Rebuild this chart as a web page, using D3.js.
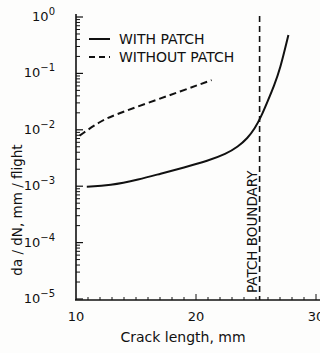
<!DOCTYPE html>
<html>
<head>
<meta charset="utf-8">
<script src="https://cdn.jsdelivr.net/npm/d3@7"></script>
<style>
  body { margin: 0; background: #fdfdfc; }
  text { font-family: "DejaVu Sans", sans-serif; fill: #111; }
</style>
</head>
<body>
<div id="chart"></div>
<script>
// Values
const withPatchX = [10.9, 12.8, 15.3, 17.0, 19.0, 21.0, 22.5, 23.5, 24.3, 24.9, 25.4, 26.0, 26.5, 27.0, 27.7];
const withPatchY = [0.00098, 0.00102, 0.00132, 0.00166, 0.00214, 0.00282, 0.00372, 0.0050, 0.0071, 0.0105, 0.0166, 0.0331, 0.0603, 0.117, 0.48];
const withoutPatchX = [10.3, 12.0, 13.1, 15.9, 18.7, 21.3];
const withoutPatchY = [0.0079, 0.0141, 0.018, 0.0295, 0.048, 0.076];
const patchBoundary = 25.3;
const yDecades = [0, -1, -2, -3, -4, -5];
const xTickLabels = [10, 20, 30];

const width = 320, height = 353;

const svg = d3.select("#chart").append("svg")
    .attr("width", width)
    .attr("height", height);

const x = d3.scaleLinear().domain([10, 30]).range([76, 316]);
const y = d3.scaleLog().domain([1e-5, 1]).range([299, 17]);

// axis lines
svg.append("line")
    .attr("x1", 76).attr("x2", 76)
    .attr("y1", 14).attr("y2", 300)
    .attr("stroke", "#111").attr("stroke-width", 1.6);
svg.append("line")
    .attr("x1", 75).attr("x2", 320)
    .attr("y1", 300).attr("y2", 300)
    .attr("stroke", "#111").attr("stroke-width", 1.6);

// y ticks, pointing into the plot
const yMinor = [];
for (let e = -5; e < 0; e++) {
  for (let m = 2; m <= 9; m++) yMinor.push(m * Math.pow(10, e));
}
svg.append("g").selectAll("line.minor")
    .data(yMinor).enter().append("line")
    .attr("x1", 76).attr("x2", 80)
    .attr("y1", d => y(d)).attr("y2", d => y(d))
    .attr("stroke", "#111").attr("stroke-width", 1);
svg.append("g").selectAll("line.major")
    .data(yDecades).enter().append("line")
    .attr("x1", 76).attr("x2", 83)
    .attr("y1", d => y(Math.pow(10, d))).attr("y2", d => y(Math.pow(10, d)))
    .attr("stroke", "#111").attr("stroke-width", 1.2);

const yLab = svg.append("g").selectAll("text")
    .data(yDecades).enter().append("text")
    .attr("x", 55)
    .attr("y", d => y(Math.pow(10, d)) + 4)
    .attr("text-anchor", "end")
    .attr("font-size", 13);
yLab.append("tspan").text("10");
yLab.append("tspan")
    .attr("dy", -6).attr("font-size", 10)
    .text(d => d === 0 ? "0" : "\u2212" + (-d));

// x ticks
const xMinor = d3.range(11, 31);
svg.append("g").selectAll("line")
    .data(xMinor).enter().append("line")
    .attr("x1", d => x(d)).attr("x2", d => x(d))
    .attr("y1", 300).attr("y2", d => d % 10 === 0 ? 294 : 297)
    .attr("stroke", "#111").attr("stroke-width", 1);

svg.append("g").selectAll("text")
    .data(xTickLabels).enter().append("text")
    .attr("x", d => x(d))
    .attr("y", 321)
    .attr("text-anchor", "middle")
    .attr("font-size", 13)
    .text(d => d);

// axis titles
svg.append("text")
    .attr("x", 183).attr("y", 342)
    .attr("text-anchor", "middle")
    .attr("font-size", 14)
    .text("Crack length, mm");

svg.append("text")
    .attr("transform", "translate(22,210) rotate(-90)")
    .attr("text-anchor", "middle")
    .attr("font-size", 13.5)
    .text("da / dN,  mm / flight");

// patch boundary
svg.append("line")
    .attr("x1", x(patchBoundary)).attr("x2", x(patchBoundary))
    .attr("y1", 16).attr("y2", 300)
    .attr("stroke", "#111").attr("stroke-width", 1.6)
    .attr("stroke-dasharray", "6,4");

svg.append("text")
    .attr("transform", `translate(${x(patchBoundary) - 3},293) rotate(-90)`)
    .attr("font-size", 13.5)
    .text("PATCH BOUNDARY");

// curves
const line = d3.line()
    .x(d => x(d[0]))
    .y(d => y(d[1]))
    .curve(d3.curveBasis);

svg.append("path")
    .datum(d3.zip(withPatchX, withPatchY))
    .attr("d", line)
    .attr("fill", "none")
    .attr("stroke", "#111")
    .attr("stroke-width", 2);

svg.append("path")
    .datum(d3.zip(withoutPatchX, withoutPatchY))
    .attr("d", line)
    .attr("fill", "none")
    .attr("stroke", "#111")
    .attr("stroke-width", 2)
    .attr("stroke-dasharray", "7,4");

// legend
const legend = [
  { label: "WITH PATCH", dash: null, y: 39 },
  { label: "WITHOUT PATCH", dash: "6,4", y: 57 }
];
const lg = svg.append("g").selectAll("g")
    .data(legend).enter().append("g");
lg.append("line")
    .attr("x1", 89).attr("x2", 110)
    .attr("y1", d => d.y).attr("y2", d => d.y)
    .attr("stroke", "#111").attr("stroke-width", 2)
    .attr("stroke-dasharray", d => d.dash);
lg.append("text")
    .attr("x", 119).attr("y", d => d.y + 5)
    .attr("font-size", 14)
    .text(d => d.label);
</script>
</body>
</html>
